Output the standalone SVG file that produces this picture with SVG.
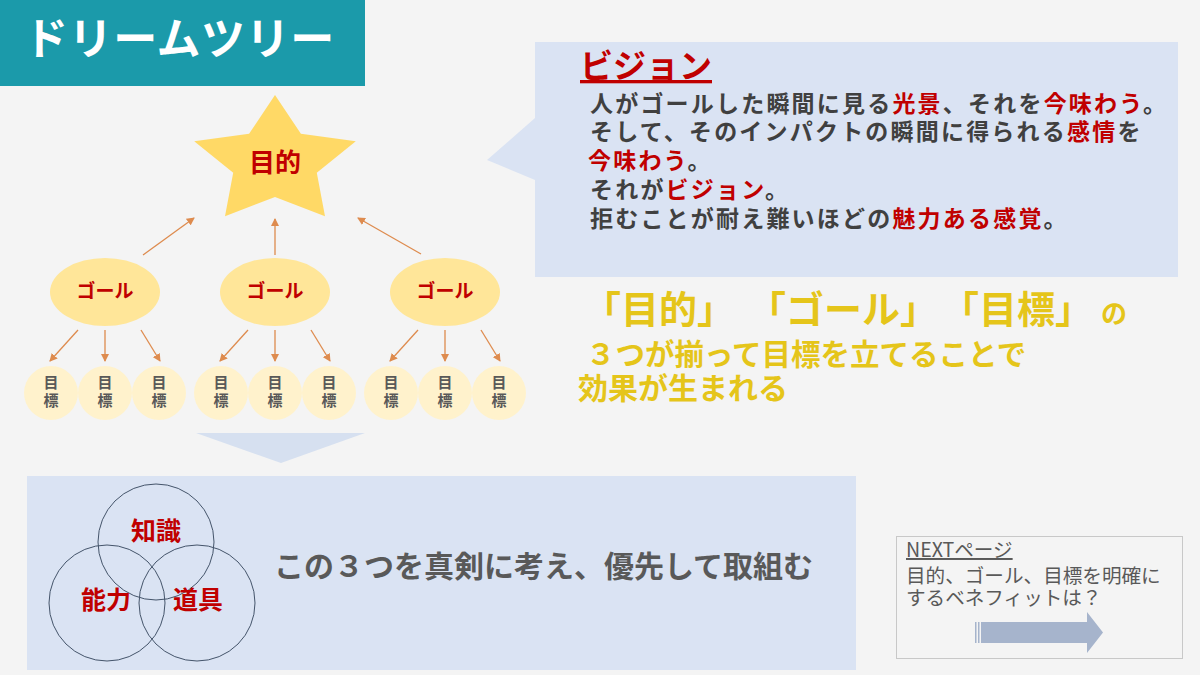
<svg xmlns="http://www.w3.org/2000/svg" width="1200" height="675" viewBox="0 0 1200 675">
<defs>
<style>
text{font-family:"Noto Sans CJK JP","Noto Sans",sans-serif;}
.b{font-weight:bold;}
.red{fill:#C00000;}
.gray{fill:#404040;}
.gold{fill:#E5C51A;}
.vt{font-size:23px;font-weight:bold;fill:#404040;letter-spacing:2.2px;}
.goal{fill:#FFE699;}
.tgt{fill:#FFF2CC;}
.tt{font-size:15px;font-weight:bold;fill:#595959;text-anchor:middle;}
.gt{font-size:19px;font-weight:bold;fill:#C00000;text-anchor:middle;}
.con{stroke:#DE8B4E;stroke-width:1.3;fill:none;marker-end:url(#ah);}
.venn{fill:none;stroke:#44546A;stroke-width:1;}
.nt{font-size:19.6px;fill:#595959;}
</style>
<marker id="ah" markerWidth="8" markerHeight="8" refX="7" refY="4" orient="auto" markerUnits="userSpaceOnUse">
<path d="M0,0 L8,4 L0,8 z" fill="#DE8B4E"/>
</marker>
</defs>
<rect width="1200" height="675" fill="#F4F4F4"/>

<g id="title">
<rect x="0" y="0" width="365" height="86" fill="#1B9AAA"/>
<text x="24" y="55" font-size="44" class="b" fill="#FFFFFF" letter-spacing="0.6">ドリームツリー</text>
</g>

<g id="vision">
<path d="M535,42 H1178 V277 H535 V180 L487,160 L535,118 Z" fill="#DAE3F3"/>
<text x="580" y="78" font-size="33" class="b red" text-decoration="underline">ビジョン</text>
<text x="590" y="112" class="vt">人がゴールした瞬間に見る<tspan class="red">光景</tspan>、それを<tspan class="red">今味わう</tspan>。</text>
<text x="590" y="140" class="vt">そして、そのインパクトの瞬間に得られる<tspan class="red">感情</tspan>を</text>
<text x="588" y="169" class="vt"><tspan class="red">今味わう</tspan>。</text>
<text x="590" y="198" class="vt">それが<tspan class="red">ビジョン</tspan>。</text>
<text x="590" y="227" class="vt">拒むことが耐え難いほどの<tspan class="red">魅力ある感覚</tspan>。</text>
</g>

<g id="summary">
<text x="583" y="323" font-size="38" class="b gold">「目的」</text>
<text x="748" y="323" font-size="38" class="b gold">「ゴール」</text>
<text x="941" y="323" font-size="38" class="b gold">「目標」</text>
<text x="1101" y="323" font-size="26" class="b gold">の</text>
<text x="586" y="365" font-size="29.5" class="b gold">３つが揃って目標を立てることで</text>
<text x="578" y="399" font-size="30" class="b gold">効果が生まれる</text>
</g>

<g id="purpose">
<polygon points="275,95 300.9,133.7 355.8,141.3 316.8,172.8 325,216.2 275,197 225,216.2 233.2,172.8 194.2,141.3 249.1,133.7" fill="#FFD966"/>
<text x="275" y="172" font-size="26" class="b red" text-anchor="middle">目的</text>
</g>

<g id="goal1"><ellipse cx="105" cy="292" rx="55" ry="34" class="goal"/><text x="105" y="298" class="gt">ゴール</text></g>
<g id="goal2"><ellipse cx="275" cy="292" rx="55" ry="34" class="goal"/><text x="275" y="298" class="gt">ゴール</text></g>
<g id="goal3"><ellipse cx="445" cy="292" rx="55" ry="34" class="goal"/><text x="445" y="298" class="gt">ゴール</text></g>

<g id="t1"><circle cx="51" cy="393" r="27" class="tgt"/><text x="51" y="388" class="tt">目</text><text x="51" y="406" class="tt">標</text></g>
<g id="t2"><circle cx="105" cy="393" r="27" class="tgt"/><text x="105" y="388" class="tt">目</text><text x="105" y="406" class="tt">標</text></g>
<g id="t3"><circle cx="159" cy="393" r="27" class="tgt"/><text x="159" y="388" class="tt">目</text><text x="159" y="406" class="tt">標</text></g>
<g id="t4"><circle cx="221" cy="393" r="27" class="tgt"/><text x="221" y="388" class="tt">目</text><text x="221" y="406" class="tt">標</text></g>
<g id="t5"><circle cx="275" cy="393" r="27" class="tgt"/><text x="275" y="388" class="tt">目</text><text x="275" y="406" class="tt">標</text></g>
<g id="t6"><circle cx="329" cy="393" r="27" class="tgt"/><text x="329" y="388" class="tt">目</text><text x="329" y="406" class="tt">標</text></g>
<g id="t7"><circle cx="391" cy="393" r="27" class="tgt"/><text x="391" y="388" class="tt">目</text><text x="391" y="406" class="tt">標</text></g>
<g id="t8"><circle cx="445" cy="393" r="27" class="tgt"/><text x="445" y="388" class="tt">目</text><text x="445" y="406" class="tt">標</text></g>
<g id="t9"><circle cx="499" cy="393" r="27" class="tgt"/><text x="499" y="388" class="tt">目</text><text x="499" y="406" class="tt">標</text></g>

<g id="connectors">
<line x1="143" y1="255" x2="194" y2="218" class="con"/>
<line x1="275" y1="255" x2="275" y2="219" class="con"/>
<line x1="421" y1="254" x2="358" y2="218" class="con"/>
<line x1="78" y1="330" x2="50" y2="361" class="con"/>
<line x1="105" y1="330" x2="105" y2="361" class="con"/>
<line x1="141" y1="330" x2="160" y2="361" class="con"/>
<line x1="248" y1="330" x2="220" y2="361" class="con"/>
<line x1="275" y1="330" x2="275" y2="361" class="con"/>
<line x1="311" y1="330" x2="330" y2="361" class="con"/>
<line x1="418" y1="330" x2="390" y2="361" class="con"/>
<line x1="445" y1="330" x2="445" y2="361" class="con"/>
<line x1="481" y1="330" x2="500" y2="361" class="con"/>
</g>

<g id="down">
<polygon points="196,433 365,433 281,463" fill="#D6E0F0"/>
</g>

<g id="action">
<rect x="27" y="476" width="829" height="194" fill="#DAE3F3"/>
<circle cx="156" cy="542" r="58" class="venn"/>
<circle cx="107" cy="603" r="58" class="venn"/>
<circle cx="197" cy="603" r="58" class="venn"/>
<text x="156" y="540" font-size="25" class="b red" text-anchor="middle">知識</text>
<text x="106" y="609" font-size="25" class="b red" text-anchor="middle">能力</text>
<text x="198" y="609" font-size="25" class="b red" text-anchor="middle">道具</text>
<text x="274" y="577" font-size="30" class="b" fill="#595959">この３つを真剣に考え、優先して取組む</text>
</g>

<g id="next">
<rect x="896.5" y="536.5" width="286" height="122" fill="#F4F4F4" stroke="#C8C8C8" stroke-width="1"/>
<text x="906" y="557" class="nt" text-decoration="underline">NEXTページ</text>
<text x="906" y="583" class="nt">目的、ゴール、目標を明確に</text>
<text x="906" y="605" class="nt">するベネフィットは？</text>
<rect x="975" y="622" width="1.5" height="21" fill="#A6B4CC"/>
<rect x="978" y="622" width="1.5" height="21" fill="#A6B4CC"/>
<path d="M981,622 H1087 V612 L1103,632.5 L1087,653 V643 H981 Z" fill="#A6B4CC"/>
</g>
</svg>
